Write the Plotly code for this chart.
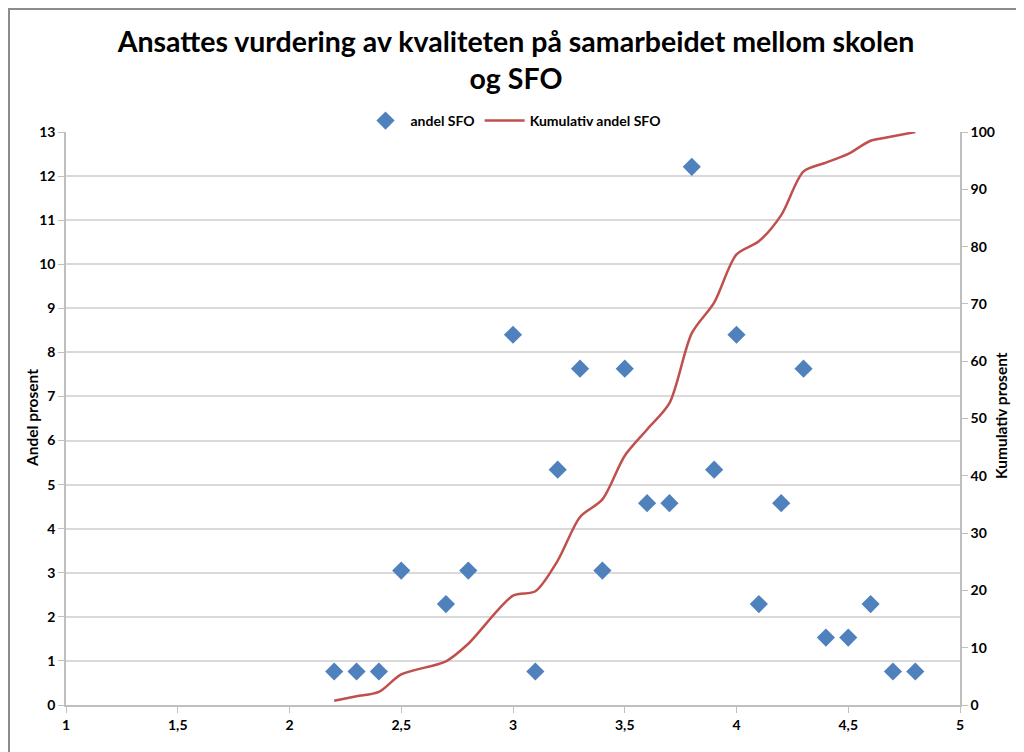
import plotly.graph_objects as go

# Data
scores = [2.2, 2.3, 2.4, 2.5, 2.7, 2.8, 3.0, 3.1, 3.2, 3.3, 3.4, 3.5, 3.6,
          3.7, 3.8, 3.9, 4.0, 4.1, 4.2, 4.3, 4.4, 4.5, 4.6, 4.7, 4.8]
andel_sfo = [0.76, 0.76, 0.76, 3.05, 2.29, 3.05, 8.40, 0.76, 5.34, 7.63, 3.05,
             7.63, 4.58, 4.58, 12.21, 5.34, 8.40, 2.29, 4.58, 7.63, 1.53,
             1.53, 2.29, 0.76, 0.76]
kumulativ = [0.76, 1.53, 2.29, 5.34, 7.63, 10.69, 19.08, 19.85, 25.19, 32.82,
             35.88, 43.51, 48.09, 52.67, 64.89, 70.23, 78.63, 80.92, 85.50,
             93.13, 94.66, 96.18, 98.47, 99.24, 100.0]

title_text = "Ansattes vurdering av kvaliteten på samarbeidet mellom skolen<br>og SFO"
left_title = "Andel prosent"
right_title = "Kumulativ prosent"

FONT = "Lato"
GRID = "#D9D9D9"
AXIS = "#BFBFBF"

fig = go.Figure()
fig.add_trace(go.Scatter(
    x=scores, y=andel_sfo, mode="markers", name="andel SFO",
    marker=dict(symbol="diamond", size=14, color="#4F81BD"),
    yaxis="y"))
fig.add_trace(go.Scatter(
    x=scores, y=kumulativ, mode="lines", name="Kumulativ andel SFO",
    line=dict(color="#C0504D", width=2.5, shape="spline", smoothing=0.8),
    yaxis="y2"))

# page has an 8px body margin; work in page pixel coords and shift
OFF = 8
W, H = 1024 - OFF, 752 - OFF
L, T = 66 - OFF, 132 - OFF
pw, ph = 960 - 66, 705 - 132
R = W - L - pw
B = H - T - ph

def px_to_paper_x(px):  # px in page coords
    return (px - OFF - L) / pw

def px_to_paper_y(py):  # py in page coords
    return (T + ph - (py - OFF)) / ph

fig.update_layout(
    width=W, height=H,
    margin=dict(l=L, r=R, t=T, b=B),
    paper_bgcolor="white", plot_bgcolor="white",
    separators=", ",
    font=dict(family=FONT, color="#000000"),
    title=dict(text="<b>" + title_text + "</b>", x=0.5, xanchor="center",
               y=1 - (52 - OFF) / H, yanchor="middle",
               font=dict(size=28.5, family=FONT, color="#000000")),
    showlegend=True,
    legend=dict(orientation="h", x=0.5, xanchor="center",
                y=px_to_paper_y(121), yanchor="middle",
                font=dict(size=14, family=FONT, color="#000000", weight="bold"),
                bgcolor="rgba(0,0,0,0)", itemwidth=40),
    xaxis=dict(range=[1, 5], dtick=0.5, tick0=1, showgrid=False,
               showline=True, linecolor=AXIS, linewidth=1.5,
               ticks="outside", ticklen=6, tickcolor=AXIS,
               tickfont=dict(size=14, family=FONT, weight="bold"),
               zeroline=False),
    yaxis=dict(range=[0, 13], dtick=1, tick0=0, showgrid=True,
               gridcolor=GRID, gridwidth=1.5,
               showline=True, linecolor=AXIS, linewidth=1.5,
               ticks="outside", ticklen=6, tickcolor=AXIS,
               tickfont=dict(size=14, family=FONT, weight="bold"),
               zeroline=False),
    yaxis2=dict(range=[0, 100], dtick=10, tick0=0, overlaying="y",
                side="right", showgrid=False,
                showline=True, linecolor=AXIS, linewidth=1.5,
                ticks="outside", ticklen=6, tickcolor=AXIS,
                tickfont=dict(size=14, family=FONT, weight="bold"),
                zeroline=False),
    annotations=[
        dict(text=left_title, xref="paper", yref="paper",
             x=px_to_paper_x(21), y=px_to_paper_y(418), textangle=-90,
             showarrow=False,
             font=dict(size=15.5, family=FONT, weight="bold", color="#000000")),
        dict(text=right_title, xref="paper", yref="paper",
             x=px_to_paper_x(1012), y=px_to_paper_y(416), textangle=-90,
             showarrow=False,
             font=dict(size=15.5, family=FONT, weight="bold", color="#000000")),
    ],
    shapes=[
        dict(type="line", xref="paper", yref="paper",
             x0=px_to_paper_x(8), x1=px_to_paper_x(1030),
             y0=px_to_paper_y(9), y1=px_to_paper_y(9),
             line=dict(color="#8C8C8C", width=2)),
        dict(type="line", xref="paper", yref="paper",
             x0=px_to_paper_x(9), x1=px_to_paper_x(9),
             y0=px_to_paper_y(9), y1=px_to_paper_y(760),
             line=dict(color="#8C8C8C", width=2)),
    ],
)

fig.write_html("out.html")
